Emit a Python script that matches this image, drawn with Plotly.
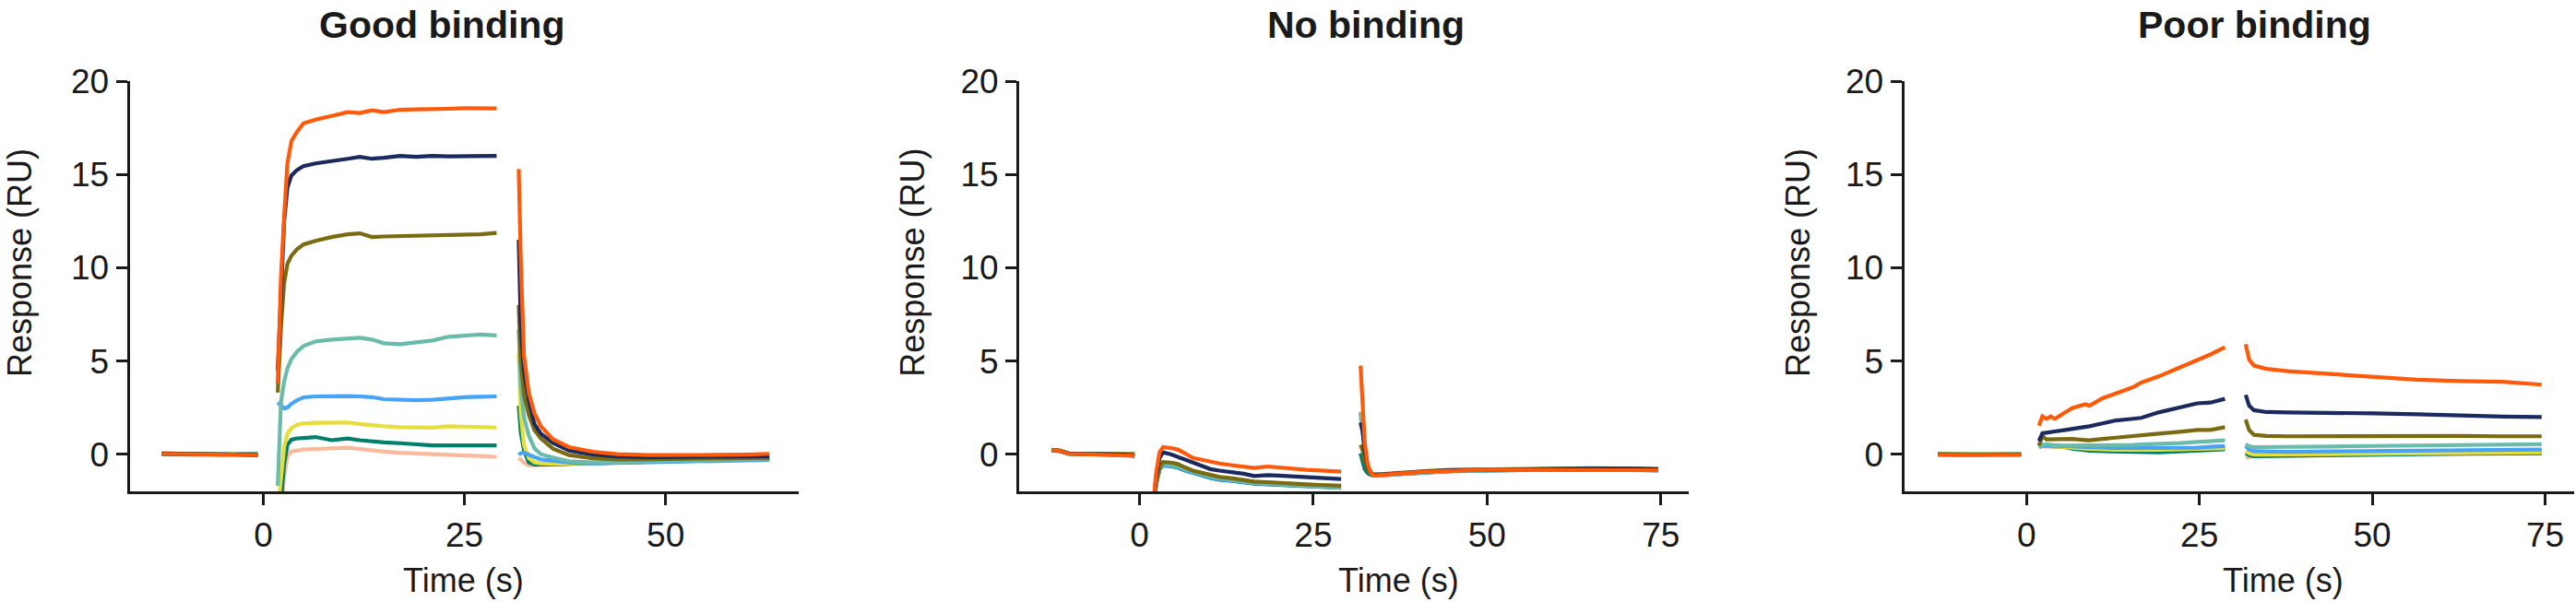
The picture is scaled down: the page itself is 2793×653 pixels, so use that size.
import plotly.graph_objects as go

W, H = 2793, 653
FONT = "Liberation Sans, Arial, sans-serif"
INK = "#1a1a1a"

SERIES = ["peach", "green", "yellow", "blue", "teal", "olive", "navy", "orange"]
COLORS = {
    "peach": "#F9B99C", "green": "#00806A", "yellow": "#E6DE3C", "blue": "#46A3F7",
    "teal": "#6BBBAA", "olive": "#7A6A12", "navy": "#1B2A5E", "orange": "#FF5A0A",
}

TITLES = ["Good binding", "No binding", "Poor binding"]
Y_TICKS = [0, 5, 10, 15, 20]
X_TICKS_GOOD = [0, 25, 50]
X_TICKS_OTHER = [0, 25, 50, 75]

# ---------------- Good binding ----------------
good_t_base = [-12.6, -10.5, -8.0, -5.0, -2.5, -0.7]
good_base = {
    "peach": [0.02, 0.0, -0.02, 0.0, 0.01, 0.0],
    "green": [0.05, 0.03, 0.0, -0.02, 0.0, 0.02],
    "yellow": [0.03, 0.02, 0.0, -0.01, 0.0, 0.01],
    "blue": [0.0, -0.02, -0.03, -0.01, -0.02, -0.04],
    "teal": [0.02, 0.0, -0.02, 0.0, -0.01, -0.02],
    "olive": [0.03, 0.01, 0.0, 0.0, -0.02, -0.03],
    "navy": [0.02, 0.0, 0.0, -0.01, -0.02, -0.06],
    "orange": [0.02, 0.0, -0.02, 0.0, -0.03, -0.05],
}
good_t_assoc = [1.8, 2.2, 2.6, 3.0, 3.5, 4.2, 5.0, 6.5, 8.5, 10.5, 12.0, 13.5,
                15.0, 17.0, 19.0, 21.0, 23.0, 25.0, 27.0, 29.0]
good_assoc = {
    "orange": [3.8, 9.5, 12.8, 15.6, 16.8, 17.3, 17.75, 17.95, 18.15, 18.35, 18.3, 18.45,
               18.35, 18.48, 18.5, 18.5, 18.53, 18.56, 18.56, 18.55],
    "navy": [4.5, 9.0, 12.5, 14.3, 14.95, 15.25, 15.45, 15.6, 15.75, 15.85, 15.95, 15.85,
             15.9, 16.0, 15.95, 16.0, 15.98, 16.0, 16.0, 16.0],
    "olive": [3.3, 6.8, 9.2, 10.2, 10.65, 11.0, 11.25, 11.45, 11.65, 11.8, 11.85, 11.65,
              11.68, 11.7, 11.7, 11.72, 11.73, 11.76, 11.8, 11.87],
    "teal": [-1.7, 2.8, 3.9, 4.6, 5.1, 5.5, 5.8, 6.05, 6.15, 6.2, 6.25, 6.15,
             5.95, 5.9, 6.0, 6.1, 6.3, 6.38, 6.42, 6.37],
    "blue": [2.77, 2.6, 2.45, 2.5, 2.7, 2.9, 3.05, 3.1, 3.13, 3.12, 3.1, 3.06,
             2.95, 2.9, 2.9, 2.92, 3.0, 3.06, 3.08, 3.1],
    "yellow": [-3.0, -1.5, 0.4, 1.1, 1.4, 1.58, 1.65, 1.68, 1.68, 1.7, 1.62, 1.55,
               1.5, 1.45, 1.42, 1.42, 1.5, 1.48, 1.45, 1.43],
    "green": [-4.0, -2.5, -0.5, 0.5, 0.78, 0.85, 0.87, 0.92, 0.75, 0.84, 0.75, 0.67,
              0.63, 0.59, 0.52, 0.47, 0.47, 0.47, 0.47, 0.47],
    "peach": [-4.0, -3.0, -1.2, -0.1, 0.15, 0.22, 0.25, 0.28, 0.3, 0.35, 0.28, 0.2,
              0.14, 0.08, 0.04, 0.0, -0.03, -0.06, -0.1, -0.14],
}
good_t_dissoc = [31.75, 32.0, 32.4, 33.0, 33.7, 34.5, 36.0, 38.0, 41.0, 44.0,
                 48.0, 52.0, 56.0, 60.0, 62.9]
good_dissoc = {
    "orange": [15.3, 10.5, 5.3, 3.3, 2.2, 1.5, 0.8, 0.38, 0.13, 0.0, -0.05, -0.06, -0.04, -0.02, 0.02],
    "navy": [11.5, 7.0, 4.5, 2.9, 1.62, 1.1, 0.6, 0.2, -0.02, -0.12, -0.16, -0.15, -0.13, -0.12, -0.11],
    "olive": [8.0, 5.0, 3.2, 2.1, 1.3, 0.85, 0.3, -0.05, -0.22, -0.28, -0.27, -0.25, -0.23, -0.21, -0.2],
    "teal": [6.7, 3.6, 2.0, 1.0, 0.31, 0.0, -0.18, -0.38, -0.44, -0.42, -0.38, -0.34, -0.3, -0.27, -0.24],
    "yellow": [5.4, 2.2, 0.5, -0.2, -0.44, -0.5, -0.52, -0.5, -0.45, -0.4, -0.36, -0.33, -0.3, -0.27, -0.24],
    "green": [2.6, 1.2, 0.2, -0.44, -0.56, -0.57, -0.56, -0.52, -0.49, -0.45, -0.4, -0.35, -0.3, -0.27, -0.24],
    "blue": [-0.03, 0.05, 0.08, -0.05, -0.15, -0.28, -0.36, -0.44, -0.49, -0.46, -0.42, -0.37, -0.34, -0.32, -0.31],
    "peach": [-0.2, -0.3, -0.45, -0.6, -0.6, -0.58, -0.56, -0.52, -0.48, -0.44, -0.4, -0.36, -0.32, -0.3, -0.28],
}

# ---------------- No binding ----------------
no_t_base = [-12.6, -11.5, -10.2, -8.0, -5.0, -2.0, -0.7]
no_base = {
    "peach": [0.2, 0.16, 0.02, 0.0, 0.0, -0.02, -0.06],
    "green": [0.22, 0.18, 0.03, 0.0, 0.0, -0.01, -0.05],
    "yellow": [0.24, 0.2, 0.04, 0.01, 0.0, 0.0, 0.02],
    "blue": [0.2, 0.17, 0.02, 0.0, 0.0, -0.02, -0.06],
    "teal": [0.21, 0.18, 0.03, 0.0, 0.0, -0.01, -0.04],
    "olive": [0.24, 0.2, 0.04, 0.01, 0.0, 0.0, 0.02],
    "navy": [0.22, 0.18, 0.04, 0.0, 0.0, -0.02, -0.1],
    "orange": [0.22, 0.18, 0.02, 0.0, 0.0, -0.02, -0.08],
}
no_t_assoc = [1.95, 2.4, 2.9, 3.4, 4.5, 5.5, 6.5, 7.7, 9.0, 10.2, 11.5, 13.4,
              15.0, 16.5, 18.4, 20.0, 22.0, 24.0, 26.0, 29.0]
no_assoc = {
    "orange": [-3.0, -1.0, 0.1, 0.38, 0.33, 0.25, 0.05, -0.2, -0.3, -0.42, -0.5, -0.6,
               -0.65, -0.74, -0.66, -0.72, -0.78, -0.84, -0.88, -0.94],
    "navy": [-3.0, -1.2, -0.2, 0.1, 0.0, -0.14, -0.3, -0.5, -0.68, -0.8, -0.88, -0.96,
             -1.05, -1.17, -1.12, -1.15, -1.2, -1.25, -1.28, -1.33],
    "olive": [-3.0, -1.5, -0.7, -0.42, -0.45, -0.53, -0.7, -0.88, -1.0, -1.12, -1.22, -1.3,
              -1.4, -1.47, -1.5, -1.52, -1.57, -1.62, -1.65, -1.69],
    "yellow": [-3.0, -1.55, -0.72, -0.45, -0.48, -0.56, -0.72, -0.9, -1.02, -1.14, -1.24, -1.32,
               -1.42, -1.49, -1.52, -1.54, -1.59, -1.64, -1.67, -1.71],
    "teal": [-3.0, -1.6, -0.78, -0.54, -0.57, -0.65, -0.8, -0.96, -1.08, -1.2, -1.3, -1.38,
             -1.46, -1.53, -1.57, -1.6, -1.64, -1.68, -1.72, -1.8],
    "blue": [-3.0, -1.6, -0.8, -0.58, -0.62, -0.7, -0.85, -1.0, -1.12, -1.25, -1.35, -1.42,
             -1.5, -1.56, -1.6, -1.63, -1.67, -1.71, -1.74, -1.78],
    "green": [-3.0, -1.62, -0.82, -0.6, -0.64, -0.72, -0.87, -1.02, -1.14, -1.27, -1.37, -1.44,
              -1.52, -1.58, -1.62, -1.65, -1.69, -1.73, -1.76, -1.8],
    "peach": [-3.0, -1.6, -0.8, -0.57, -0.61, -0.69, -0.84, -0.99, -1.11, -1.24, -1.34, -1.41,
              -1.49, -1.55, -1.59, -1.62, -1.66, -1.7, -1.73, -1.77],
}
no_t_dissoc = [31.8, 32.1, 32.4, 32.8, 33.2, 33.7, 35.2, 38.0, 41.4, 45.0,
               50.8, 55.0, 60.0, 65.0, 70.0, 74.6]
no_dissoc = {
    "orange": [4.75, 3.0, 0.63, -0.5, -0.94, -1.15, -1.12, -1.02, -0.94, -0.88, -0.83, -0.84, -0.85, -0.86, -0.86, -0.86],
    "navy": [1.7, 1.2, 0.2, -0.6, -0.95, -1.1, -1.08, -1.0, -0.92, -0.86, -0.82, -0.8, -0.78, -0.77, -0.78, -0.8],
    "olive": [0.5, 0.2, -0.3, -0.8, -1.0, -1.1, -1.06, -0.98, -0.9, -0.84, -0.8, -0.78, -0.76, -0.75, -0.76, -0.8],
    "teal": [2.27, 1.5, 0.3, -0.6, -1.0, -1.15, -1.12, -1.04, -0.96, -0.9, -0.86, -0.84, -0.82, -0.82, -0.83, -0.85],
    "blue": [2.2, 1.4, 0.2, -0.6, -1.0, -1.15, -1.12, -1.04, -0.96, -0.9, -0.86, -0.84, -0.83, -0.83, -0.84, -0.86],
    "yellow": [2.0, 1.3, 0.1, -0.65, -1.0, -1.13, -1.1, -1.02, -0.95, -0.88, -0.84, -0.82, -0.8, -0.8, -0.81, -0.83],
    "green": [0.05, -0.4, -0.8, -1.0, -1.1, -1.15, -1.12, -1.04, -0.96, -0.9, -0.86, -0.84, -0.83, -0.83, -0.84, -0.86],
    "peach": [0.0, -0.45, -0.82, -1.02, -1.12, -1.16, -1.13, -1.05, -0.97, -0.91, -0.87, -0.85, -0.84, -0.84, -0.85, -0.87],
}

# ---------------- Poor binding ----------------
poor_t_base = [-12.8, -10.0, -7.0, -4.0, -0.8]
poor_base = {
    "peach": [-0.02, -0.03, -0.02, -0.01, -0.02],
    "green": [-0.01, -0.02, -0.03, -0.02, -0.01],
    "yellow": [0.02, 0.0, -0.01, 0.0, 0.01],
    "blue": [0.0, -0.04, -0.03, -0.02, 0.0],
    "teal": [0.01, -0.01, -0.02, -0.01, 0.0],
    "olive": [0.0, -0.02, -0.02, -0.01, -0.01],
    "navy": [-0.02, -0.03, -0.03, -0.02, -0.02],
    "orange": [-0.03, -0.03, -0.02, -0.01, -0.03],
}
poor_t_assoc = [1.8, 2.3, 2.9, 3.5, 4.1, 5.4, 6.6, 8.5, 9.1, 11.0, 12.9, 15.4,
                16.6, 19.1, 22.2, 24.7, 26.6, 28.7]
poor_assoc = {
    "orange": [1.53, 2.03, 1.9, 2.03, 1.9, 2.18, 2.47, 2.68, 2.6, 3.0, 3.26, 3.59,
               3.84, 4.17, 4.66, 5.05, 5.35, 5.74],
    "navy": [0.71, 1.12, 1.15, 1.2, 1.22, 1.29, 1.35, 1.45, 1.5, 1.65, 1.81, 1.9,
             1.95, 2.24, 2.52, 2.73, 2.77, 2.97],
    "olive": [0.46, 0.96, 0.79, 0.8, 0.8, 0.82, 0.82, 0.76, 0.74, 0.82, 0.88, 0.95,
              0.97, 1.1, 1.2, 1.3, 1.3, 1.45],
    "teal": [0.38, 0.5, 0.54, 0.5, 0.48, 0.46, 0.46, 0.47, 0.48, 0.49, 0.49, 0.5,
             0.52, 0.54, 0.6, 0.66, 0.7, 0.74],
    "blue": [0.38, 0.45, 0.46, 0.46, 0.45, 0.46, 0.42, 0.38, 0.37, 0.35, 0.34, 0.33,
             0.33, 0.33, 0.33, 0.35, 0.4, 0.43],
    "yellow": [0.42, 0.44, 0.45, 0.44, 0.42, 0.4, 0.35, 0.3, 0.28, 0.25, 0.24, 0.24,
               0.23, 0.24, 0.26, 0.28, 0.3, 0.32],
    "green": [0.46, 0.45, 0.44, 0.43, 0.43, 0.4, 0.3, 0.21, 0.18, 0.16, 0.15, 0.14,
              0.12, 0.1, 0.15, 0.21, 0.22, 0.26],
    "peach": [0.4, 0.42, 0.42, 0.41, 0.4, 0.38, 0.34, 0.3, 0.28, 0.27, 0.26, 0.26,
              0.25, 0.26, 0.27, 0.28, 0.3, 0.31],
}
poor_t_dissoc = [31.7, 32.2, 32.9, 34.7, 37.8, 44.0, 50.2, 56.5, 62.7, 68.9, 74.5]
poor_dissoc = {
    "orange": [5.9, 5.08, 4.75, 4.58, 4.45, 4.29, 4.17, 4.0, 3.92, 3.88, 3.73],
    "navy": [3.18, 2.6, 2.36, 2.26, 2.24, 2.24, 2.19, 2.14, 2.07, 2.02, 1.99],
    "olive": [1.86, 1.29, 1.04, 0.98, 0.96, 0.97, 0.99, 0.99, 0.98, 0.96, 0.96],
    "teal": [0.54, 0.42, 0.38, 0.38, 0.38, 0.41, 0.44, 0.46, 0.48, 0.5, 0.53],
    "blue": [0.43, 0.25, 0.16, 0.14, 0.13, 0.15, 0.18, 0.21, 0.22, 0.24, 0.25],
    "yellow": [0.16, 0.05, -0.03, -0.03, -0.01, 0.0, 0.03, 0.05, 0.07, 0.09, 0.1],
    "green": [0.05, -0.05, -0.11, -0.1, -0.07, -0.03, -0.01, 0.01, 0.03, 0.04, 0.05],
    "peach": [-0.2, -0.15, -0.1, -0.08, -0.06, -0.04, -0.02, 0.0, 0.02, 0.04, 0.05],
}

PANELS = [
    (good_t_base, good_base, good_t_assoc, good_assoc, good_t_dissoc, good_dissoc),
    (no_t_base, no_base, no_t_assoc, no_assoc, no_t_dissoc, no_dissoc),
    (poor_t_base, poor_base, poor_t_assoc, poor_assoc, poor_t_dissoc, poor_dissoc),
]

# layout geometry (pixels)
X_DOMAINS_PX = [(140.6, 865.6), (1105.0, 1831.0), (2064.5, 2791.0)]
X_RANGES = [(-16.6, 66.5), (-17.3, 79.0), (-17.7, 79.2)]
Y_DOMAIN_PX = (88.3, 533.1)
TITLE_X_PX = [478.5, 1481.0, 2444.0]
TITLE_Y_PX = 27.0
YLABEL_X_PX = [21.0, 988.7, 1949.0]
XLABEL_X_PX = [502.5, 1516.7, 2475.0]

fig = go.Figure()
for i, (tb, base, ta, assoc, td, dissoc) in enumerate(PANELS):
    sfx = "" if i == 0 else str(i + 1)
    for name in SERIES:
        xs = list(tb) + [None] + list(ta) + [None] + list(td)
        ys = list(base[name]) + [None] + list(assoc[name]) + [None] + list(dissoc[name])
        fig.add_trace(go.Scatter(
            x=xs, y=ys, mode="lines", connectgaps=False,
            line=dict(color=COLORS[name], width=4.2),
            xaxis="x" + sfx, yaxis="y" + sfx, showlegend=False, hoverinfo="skip",
        ))

axis_common = dict(
    showline=True, linewidth=3, linecolor=INK, ticks="outside", ticklen=12,
    tickwidth=3, tickcolor=INK, showgrid=False, zeroline=False, automargin=False,
    tickfont=dict(family=FONT, size=37, color=INK),
)
ydom = [1 - Y_DOMAIN_PX[1] / H, 1 - Y_DOMAIN_PX[0] / H]
layout = dict(
    width=W, height=H, autosize=False,
    margin=dict(l=0, r=0, t=0, b=0, pad=0, autoexpand=False),
    paper_bgcolor="white", plot_bgcolor="white", showlegend=False,
)
annotations = []
for i in range(3):
    sfx = "" if i == 0 else str(i + 1)
    x0, x1 = X_DOMAINS_PX[i]
    ticks = X_TICKS_GOOD if i == 0 else X_TICKS_OTHER
    layout["xaxis" + sfx] = dict(
        axis_common, domain=[x0 / W, x1 / W], range=list(X_RANGES[i]),
        tickvals=ticks, ticktext=[str(v) for v in ticks], anchor="y" + sfx,
    )
    layout["yaxis" + sfx] = dict(
        axis_common, domain=ydom, range=[-2, 20], tickvals=Y_TICKS,
        ticktext=[str(v) for v in Y_TICKS], anchor="x" + sfx,
    )
    annotations.append(dict(
        text="<b>" + TITLES[i] + "</b>", x=TITLE_X_PX[i] / W, y=1 - TITLE_Y_PX / H,
        xref="paper", yref="paper", xanchor="center", yanchor="middle",
        showarrow=False, font=dict(family=FONT, size=41, color=INK),
    ))
    annotations.append(dict(
        text="Response (RU)", x=YLABEL_X_PX[i] / W, y=1 - 285 / H, textangle=-90,
        xref="paper", yref="paper", xanchor="center", yanchor="middle",
        showarrow=False, font=dict(family=FONT, size=36, color=INK),
    ))
    annotations.append(dict(
        text="Time (s)", x=XLABEL_X_PX[i] / W, y=1 - 629 / H,
        xref="paper", yref="paper", xanchor="center", yanchor="middle",
        showarrow=False, font=dict(family=FONT, size=36, color=INK),
    ))
layout["annotations"] = annotations
fig.update_layout(**layout)
fig.write_html("out.html")

# make sure the page itself adds no margin around the figure
with open("out.html", "r", encoding="utf-8") as f:
    html = f.read()
html = html.replace("<head>", "<head><style>html,body{margin:0;padding:0;overflow:hidden;}</style>", 1)
with open("out.html", "w", encoding="utf-8") as f:
    f.write(html)
